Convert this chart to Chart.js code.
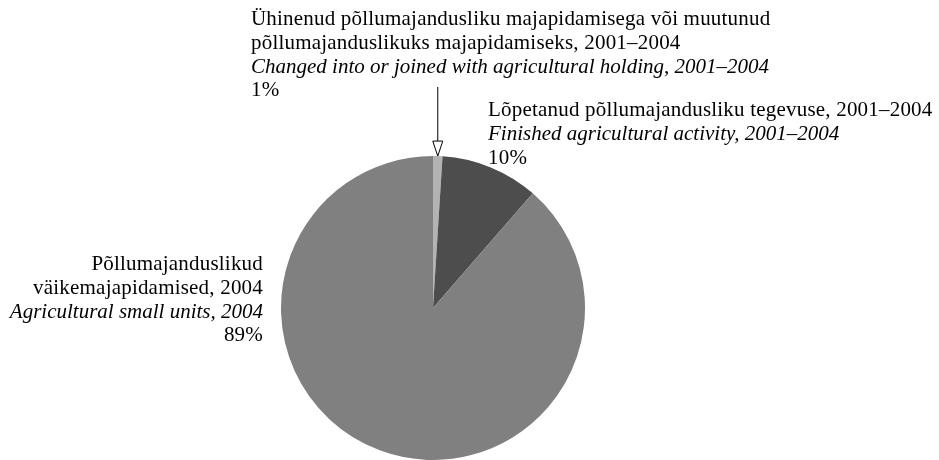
<!DOCTYPE html>
<html>
<head>
<meta charset="utf-8">
<script src="https://cdn.jsdelivr.net/npm/chart.js@4"></script>
<style>
    html, body { margin: 0; padding: 0; background: #fff; }
    #wrap { width: 939px; height: 460px; }
</style>
</head>
<body>
<div id="wrap"><canvas id="pieChart" width="939" height="460"></canvas></div>
<script>
// Shares (clockwise from 12 o'clock)
const categories = ['Changed into or joined with agricultural holding', 'Finished agricultural activity', 'Agricultural small units'];
const shares = [1, 10.4, 88.6];
const percentLabels = ['1%', '10%', '89%'];
const sliceColors = ['#b3b3b3', '#4d4d4d', '#808080'];

const labelLines = [
    ['Ühinenud põllumajandusliku majapidamisega või muutunud', 'põllumajanduslikuks majapidamiseks, 2001–2004', 'Changed into or joined with agricultural holding, 2001–2004'],
    ['Lõpetanud põllumajandusliku tegevuse, 2001–2004', 'Finished agricultural activity, 2001–2004'],
    ['Põllumajanduslikud', 'väikemajapidamised, 2004', 'Agricultural small units, 2004']
];

const FONT = '21px "Liberation Serif", "Times New Roman", serif';
const FONT_IT = 'italic 21px "Liberation Serif", "Times New Roman", serif';
const LINE_H = 23.8;

// draws the text block for one slice; last text line is italic, then the percent
function drawBlock(ctx, lines, pct, x, y, align) {
    ctx.textAlign = align;
    ctx.textBaseline = 'alphabetic';
    ctx.fillStyle = '#000';
    lines.forEach((t, i) => {
        const italic = i === lines.length - 1;
        ctx.font = italic ? FONT_IT : FONT;
        ctx.letterSpacing = italic ? '0px' : '0.2px';
        ctx.fillText(t, x, y + i * LINE_H);
    });
    ctx.font = FONT;
    ctx.letterSpacing = '0.2px';
    ctx.fillText(pct, x, y + lines.length * LINE_H);
}

const labelPlugin = {
    id: 'sliceLabels',
    afterDraw(chart) {
        const ctx = chart.ctx;
        const arcs = chart.getDatasetMeta(0).data;
        ctx.save();

        // arrow pointing to the 1% slice
        const a = arcs[0];
        const mid = (a.startAngle + a.endAngle) / 2;
        const tipX = a.x + a.outerRadius * Math.cos(mid);
        const tipY = a.y + a.outerRadius * Math.sin(mid);
        ctx.strokeStyle = '#000';
        ctx.lineWidth = 1;
        ctx.beginPath();
        ctx.moveTo(tipX, 87);
        ctx.lineTo(tipX, tipY - 15);
        ctx.stroke();
        ctx.beginPath();
        ctx.moveTo(tipX - 5, tipY - 15);
        ctx.lineTo(tipX + 5, tipY - 15);
        ctx.lineTo(tipX, tipY);
        ctx.closePath();
        ctx.fillStyle = '#fff';
        ctx.fill();
        ctx.stroke();

        drawBlock(ctx, labelLines[0], percentLabels[0], 251, 25, 'left');
        drawBlock(ctx, labelLines[1], percentLabels[1], 488, 116, 'left');
        drawBlock(ctx, labelLines[2], percentLabels[2], 263, 270, 'right');
        ctx.restore();
    }
};

new Chart(document.getElementById('pieChart').getContext('2d'), {
    type: 'pie',
    data: {
        labels: categories,
        datasets: [{
            data: shares,
            backgroundColor: sliceColors,
            borderWidth: 0
        }]
    },
    options: {
        responsive: false,
        animation: false,
        rotation: 0,
        layout: { padding: { top: 156, bottom: 0, left: 0, right: 73 } },
        plugins: {
            legend: { display: false },
            tooltip: { enabled: false }
        }
    },
    plugins: [labelPlugin]
});
</script>
</body>
</html>
